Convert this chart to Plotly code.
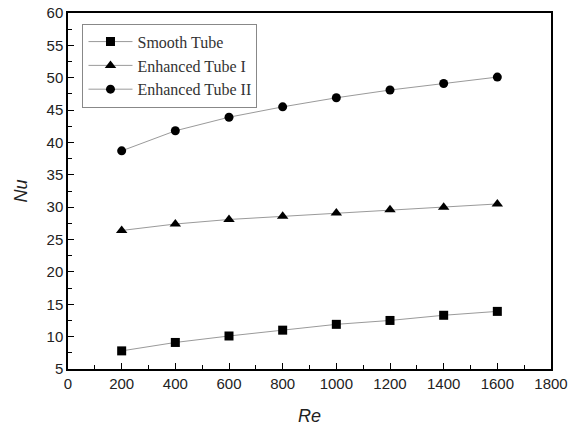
import plotly.graph_objects as go

re_values = [200, 400, 600, 800, 1000, 1200, 1400, 1600]
nu_smooth = [7.8, 9.1, 10.1, 11.0, 11.9, 12.5, 13.3, 13.9]
nu_enh1 = [26.4, 27.4, 28.1, 28.6, 29.1, 29.6, 30.0, 30.5]
nu_enh2 = [38.7, 41.8, 43.9, 45.5, 46.9, 48.1, 49.1, 50.1]

series = [
    ("Smooth Tube", nu_smooth, "square"),
    ("Enhanced Tube I", nu_enh1, "triangle-up"),
    ("Enhanced Tube II", nu_enh2, "circle"),
]

fig = go.Figure()
for name, vals, sym in series:
    fig.add_trace(go.Scatter(
        x=re_values, y=vals, name=name, mode="lines+markers",
        line=dict(color="#9a9a9a", width=1),
        marker=dict(symbol=sym, size=9 if sym != "triangle-up" else 10, color="black"),
    ))

axis_common = dict(
    showline=True, linecolor="black", linewidth=1.5, mirror=True,
    ticks="inside", ticklen=6, tickwidth=1.2, tickcolor="black",
    showgrid=False, zeroline=False, automargin=False,
    tickfont=dict(family="Liberation Sans, Arial", size=15, color="#222"),
)

fig.update_layout(
    width=573, height=432,
    margin=dict(l=68, r=22, t=13, b=63),
    paper_bgcolor="white", plot_bgcolor="white",
    showlegend=True,
    legend=dict(
        x=0.03, y=0.97, xanchor="left", yanchor="top",
        bordercolor="#888", borderwidth=1, bgcolor="white",
        font=dict(family="Liberation Serif, Times New Roman", size=16, color="#333"),
        tracegroupgap=0, itemwidth=44,
    ),
    xaxis=dict(
        range=[0, 1800], tickvals=list(range(0, 1801, 200)),
        minor=dict(ticks="inside", ticklen=4, tickcolor="black", dtick=100),
        title=dict(text="<i>Re</i>", font=dict(family="Liberation Sans, Arial", size=18, color="#222"), standoff=19),
        **axis_common,
    ),
    yaxis=dict(
        range=[5, 60], tickvals=list(range(5, 61, 5)),
        minor=dict(ticks="inside", ticklen=4, tickcolor="black", dtick=2.5),
        title=dict(text="<i>Nu</i>", font=dict(family="Liberation Sans, Arial", size=18, color="#222"), standoff=14),
        **axis_common,
    ),
)

fig.write_html("out.html")
